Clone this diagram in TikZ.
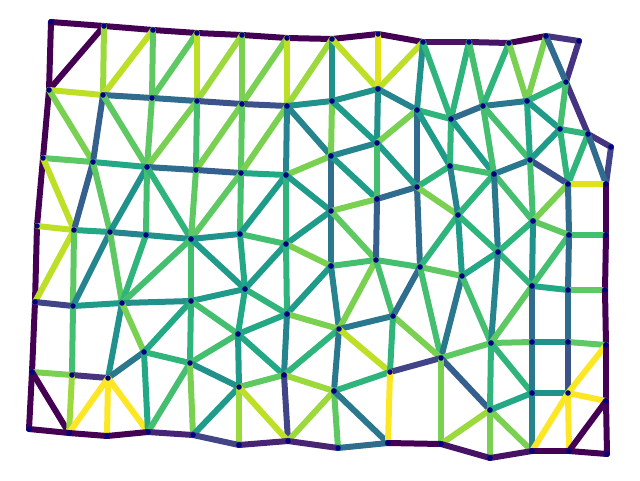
\documentclass[tikz,border=0pt]{standalone}
\definecolor{V0}{HTML}{440154}
\definecolor{V1}{HTML}{471365}
\definecolor{V2}{HTML}{482475}
\definecolor{V3}{HTML}{463480}
\definecolor{V4}{HTML}{414487}
\definecolor{V5}{HTML}{3B528B}
\definecolor{V6}{HTML}{355F8D}
\definecolor{V7}{HTML}{2F6C8E}
\definecolor{V8}{HTML}{2A788E}
\definecolor{V9}{HTML}{25848E}
\definecolor{V10}{HTML}{21918C}
\definecolor{V11}{HTML}{1E9C89}
\definecolor{V12}{HTML}{22A884}
\definecolor{V13}{HTML}{2FB47C}
\definecolor{V14}{HTML}{44BF70}
\definecolor{V15}{HTML}{5EC962}
\definecolor{V16}{HTML}{7AD151}
\definecolor{V17}{HTML}{9BD93C}
\definecolor{V18}{HTML}{BDDF26}
\definecolor{V19}{HTML}{DFE318}
\definecolor{V20}{HTML}{FDE725}
\definecolor{dotcol}{HTML}{000080}
\tikzset{
  ed/.style={line width=6pt, line cap=round, draw=#1},
  vdot/.style={circle, fill=dotcol, inner sep=0pt, minimum size=5.6pt}
}
\begin{document}
\begin{tikzpicture}[x=1pt,y=-1pt]
\useasboundingbox (0,0) rectangle (640,480);
\foreach \n/\x/\y in {
1/51/22,2/104/26,3/153/30,4/197/33,5/242/35,6/287/38,7/332/39,8/378/34,9/423/42,10/469/42,
11/509/43,12/546/36,13/579/41,14/49/90,15/103/95,16/152/98,17/197/101,18/242/104,19/287/106,20/332/101,
21/378/89,22/417/110,23/451/119,24/483/106,25/527/101,26/566/82,27/560/129,28/588/134,29/611/147,30/43/158,
31/93/162,32/147/167,33/196/170,34/241/173,35/286/175,36/331/156,37/377/143,38/417/187,39/450/166,40/494/174,
41/530/160,42/568/184,43/606/184,44/331/211,45/377/199,46/37/226,47/74/230,48/110/232,49/146/235,50/191/239,
51/240/234,52/286/244,53/331/266,54/376/260,55/420/267,56/458/215,57/533/221,58/569/235,59/606/235,60/498/252,
61/462/276,62/532/286,63/568/290,64/605/290,65/35/302,66/73/306,67/122/303,68/191/301,69/245/289,70/287/314,
71/393/316,72/238/334,73/339/329,74/491/343,75/532/342,76/568/342,77/606/345,78/441/358,79/32/372,80/72/375,
81/108/378,82/144/352,83/190/363,84/284/375,85/239/387,86/334/391,87/390/372,88/532/393,89/568/393,90/606/401,
91/490/410,92/29/429,93/69/433,94/107/436,95/148/432,96/193/435,97/239/445,98/288/441,99/338/448,100/388/443,
101/441/444,102/490/458,103/532/451,104/569/451,105/607/454}
  \coordinate (v\n) at (\x,\y);
\foreach \a/\b/\c in {
1/2/V0,2/3/V0,3/4/V0,4/5/V0,5/6/V0,6/7/V0,7/8/V0,8/9/V0,9/10/V1,10/11/V1,11/12/V0,12/13/V3,13/26/V3,26/28/V3,28/29/V3,29/43/V4,
1/14/V0,14/30/V0,30/46/V0,46/65/V0,65/79/V0,79/92/V0,2/14/V0,
2/15/V17,3/15/V18,3/16/V15,4/16/V15,4/17/V18,5/17/V17,5/18/V16,6/18/V16,6/19/V18,7/19/V17,7/20/V10,7/21/V18,8/21/V19,9/21/V18,
9/22/V10,9/23/V13,10/23/V13,10/24/V14,11/24/V13,11/25/V16,12/25/V16,12/26/V7,
14/15/V18,15/16/V7,16/17/V7,17/18/V5,18/19/V5,19/20/V10,20/21/V10,21/22/V9,22/23/V13,23/24/V7,24/25/V8,25/26/V13,
14/31/V16,15/31/V6,15/32/V15,16/32/V15,17/32/V16,17/33/V14,18/33/V16,18/34/V15,19/34/V16,19/35/V9,19/36/V9,20/36/V16,
20/37/V11,21/37/V10,22/37/V16,22/38/V7,22/39/V11,23/39/V13,23/40/V11,24/40/V14,24/41/V14,25/41/V12,25/27/V11,26/27/V14,
27/28/V13,27/41/V11,27/42/V13,28/42/V13,28/43/V7,
30/31/V15,31/32/V12,32/33/V7,33/34/V6,34/35/V12,35/36/V16,36/37/V9,37/38/V11,38/39/V13,39/40/V14,40/41/V8,41/42/V5,42/43/V19,
30/47/V18,31/47/V6,31/48/V15,32/48/V10,32/49/V14,32/50/V13,33/50/V15,34/50/V15,34/51/V14,35/51/V11,35/52/V13,35/44/V11,
36/44/V7,36/45/V11,37/45/V14,38/45/V7,44/45/V16,44/52/V11,44/53/V8,44/54/V15,45/54/V6,38/55/V7,38/56/V16,39/56/V9,
40/56/V13,40/57/V14,40/60/V8,41/57/V14,42/57/V16,42/58/V7,43/59/V0,
46/47/V18,47/48/V12,48/49/V9,49/50/V10,50/51/V10,51/52/V14,52/53/V16,53/54/V14,54/55/V14,55/56/V13,56/61/V11,56/60/V13,
55/61/V15,60/61/V12,57/58/V15,58/59/V14,57/60/V13,57/62/V10,58/62/V14,58/63/V7,60/62/V13,59/64/V0,62/63/V12,63/64/V15,
47/65/V18,47/66/V15,48/66/V9,48/67/V15,49/67/V13,50/67/V14,50/68/V14,50/69/V11,51/69/V12,52/69/V11,52/70/V13,53/70/V11,
53/73/V9,54/73/V16,54/71/V14,55/71/V7,55/78/V14,61/78/V8,61/74/V14,60/74/V9,62/74/V15,62/75/V7,63/76/V7,64/77/V0,
65/66/V4,66/67/V11,67/68/V10,68/69/V11,69/70/V13,70/73/V16,73/71/V8,71/78/V16,78/74/V15,74/75/V15,75/76/V10,76/77/V15,
68/72/V14,69/72/V12,70/72/V12,
66/80/V14,67/81/V10,67/82/V16,68/82/V12,68/83/V13,72/83/V14,72/84/V12,72/85/V11,70/84/V9,73/84/V13,73/86/V8,73/87/V18,
71/87/V13,78/87/V4,78/91/V6,74/91/V13,74/88/V13,75/88/V8,76/89/V5,77/89/V20,77/90/V0,
79/80/V16,80/81/V3,81/82/V8,82/83/V13,83/85/V10,84/85/V15,84/86/V17,86/87/V13,88/89/V10,
79/93/V0,80/93/V17,81/93/V20,81/94/V20,81/95/V20,82/95/V12,83/95/V14,83/96/V16,85/96/V11,85/97/V17,84/98/V4,85/98/V18,
86/98/V17,86/99/V15,86/100/V8,87/100/V20,78/101/V16,91/101/V17,91/102/V16,91/103/V16,88/91/V12,88/103/V9,89/103/V20,
89/104/V20,89/90/V20,90/104/V0,
92/93/V0,93/94/V0,94/95/V0,95/96/V2,96/97/V4,97/98/V2,98/99/V2,99/100/V7,100/101/V0,101/102/V1,102/103/V1,103/104/V0,
104/105/V0,90/105/V0}
  \draw[ed=\c] (v\a) -- (v\b);
\foreach \n in {1,...,105}
  \node[vdot] (d\n) at (v\n) {};
\end{tikzpicture}
\end{document}
